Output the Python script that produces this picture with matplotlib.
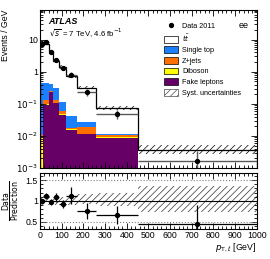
import numpy as np
import matplotlib
matplotlib.use("Agg")
import matplotlib.pyplot as plt
from matplotlib.patches import Patch
from matplotlib.lines import Line2D
from matplotlib.ticker import FixedLocator, MultipleLocator, FuncFormatter, LogLocator, NullFormatter

plt.rcParams['font.family'] = ['Liberation Sans', 'DejaVu Sans']
plt.rcParams['hatch.linewidth'] = 0.5

# bins [GeV]
edges = np.array([0, 15, 40, 60, 90, 120, 170, 260, 450, 1000])

# data, events / GeV
data = np.array([7.2, 8.2, 4.16, 2.4, 1.31, 0.82, 0.24, 0.049, 0.0017])
data_err = np.array([0.36, 0.57, 0.30, 0.24, 0.14, 0.15, 0.06, 0.016, 0.00168])

# predictions (stack order bottom -> top)
fake = np.array([0.0, 0.093, 0.235, 0.106, 0.044, 0.015, 0.0112, 0.0087, 0.0])
diboson = np.array([0.009, 0.003, 0.002, 0.004, 0.006, 0.001, 0.0006, 0.0005, 0.0])
zjets = np.array([0.002, 0.038, 0.015, 0.024, 0.010, 0.002, 0.007, 0.0018, 0.0])
singletop = np.array([0.44, 0.30, 0.16, 0.17, 0.055, 0.023, 0.008, 0.0007, 0.0])
ttbar = np.array([6.75, 6.87, 3.89, 1.90, 1.31, 0.69, 0.29, 0.063, 0.0037])

# relative syst. uncertainty
syst_up = np.array([0.10, 0.10, 0.10, 0.10, 0.10, 0.16, 0.16, 0.18, 0.37])
syst_dn = np.array([0.10, 0.10, 0.10, 0.10, 0.10, 0.10, 0.08, 0.12, 0.26])

layers = [(fake, '#660066'), (diboson, '#ffff00'), (zjets, '#ff7000'),
          (singletop, '#1a80ff'), (ttbar, 'white')]

centers = 0.5*(edges[1:] + edges[:-1])
halfw = 0.5*np.diff(edges)
total = fake + diboson + zjets + singletop + ttbar

fig = plt.figure(figsize=(2.7, 2.59), dpi=100)
ax = fig.add_axes([0.148, 0.351, 0.803, 0.610])
rax = fig.add_axes([0.148, 0.116, 0.803, 0.216])

# stack
base = np.full(len(total), 1e-6)
for vals, col in layers:
    ax.stairs(base + vals, edges, baseline=base, fill=True, color=col, lw=0)
    base = base + vals

ax.stairs(total*(1+syst_up), edges, baseline=total*(1-syst_dn), fill=True,
          facecolor='none', edgecolor='k', hatch='/////', lw=0)
ax.stairs(total, edges, color='k', lw=0.9)

lo = np.minimum(data_err, data*0.999)
ax.errorbar(centers, data, xerr=halfw, yerr=[lo, data_err], fmt='o', color='k',
            ms=2.8, ecolor='0.35', elinewidth=1.0, capsize=0)

ax.set_yscale('log')
ax.set_xlim(0, 1000)
ax.set_ylim(1e-3, 83)

def logfmt(v, pos):
    e = int(round(np.log10(v)))
    if e == 0:
        return '1'
    if e == 1:
        return '10'
    return r'$10^{%d}$' % e

ax.yaxis.set_major_locator(LogLocator(base=10, numticks=10))
ax.yaxis.set_major_formatter(FuncFormatter(logfmt))
ax.yaxis.set_minor_locator(LogLocator(base=10, subs=np.arange(2, 10), numticks=20))
ax.yaxis.set_minor_formatter(NullFormatter())
ax.xaxis.set_major_locator(MultipleLocator(100))
ax.xaxis.set_minor_locator(MultipleLocator(20))
ax.set_xticklabels([])

# ratio
ratio = data/total
ratio_err = data_err/total
rax.stairs(1+syst_up, edges, baseline=1-syst_dn, fill=True, facecolor='none',
           edgecolor='0.2', hatch='/////', lw=0)
rax.axhline(1.0, color='k', lw=0.8)
rax.axhline(1.5, color='0.5', lw=0.8, ls=':')
rax.axhline(0.5, color='0.5', lw=0.8, ls=':')
rlo = np.minimum(ratio_err, ratio - 0.01)
rax.errorbar(centers, ratio, xerr=halfw, yerr=[rlo, ratio_err], fmt='o', color='k',
             ms=2.8, ecolor='k', elinewidth=0.9, capsize=0)
rax.set_xlim(0, 1000)
rax.set_ylim(0.33, 1.67)
rax.xaxis.set_major_locator(MultipleLocator(100))
rax.xaxis.set_minor_locator(MultipleLocator(20))
rax.yaxis.set_major_locator(FixedLocator([0.5, 1.0, 1.5]))
rax.yaxis.set_major_formatter(FuncFormatter(lambda v, p: '1' if v == 1 else '%g' % v))
rax.yaxis.set_minor_locator(MultipleLocator(0.1))

for a in (ax, rax):
    a.tick_params(which='both', direction='in', top=True, right=True, labelsize=6.3, pad=1.5, width=0.6)
    a.tick_params(which='major', length=4.5)
    a.tick_params(which='minor', length=2.2)
    for s in a.spines.values():
        s.set_linewidth(0.8)

fig.text(0.022, 0.962, 'Events / GeV', rotation=90, ha='center', va='top', fontsize=6.3)
fig.text(0.042, 0.225, r'$\frac{\mathrm{Data}}{\mathrm{Prediction}}$', rotation=90,
         ha='center', va='center', fontsize=8)
fig.text(0.951, 0.045, r'$p_{\mathrm{T},\ell}$ [GeV]', ha='right', va='center', fontsize=6.3)

ax.text(0.04, 0.925, 'ATLAS', transform=ax.transAxes, fontsize=6.5, fontweight='bold',
        style='italic', va='center')
ax.text(0.04, 0.85, r'$\sqrt{s}$ = 7 TeV, 4.6 fb$^{-1}$', transform=ax.transAxes,
        fontsize=5.6, va='center')
ax.text(0.915, 0.905, 'ee', transform=ax.transAxes, fontsize=6.5, va='center')

handles = [Line2D([], [], marker='o', color='k', ls='none', ms=2.8),
           Patch(facecolor='white', edgecolor='k', lw=0.5),
           Patch(facecolor='#1a80ff', edgecolor='k', lw=0.5),
           Patch(facecolor='#ff7000', edgecolor='k', lw=0.5),
           Patch(facecolor='#ffff00', edgecolor='k', lw=0.5),
           Patch(facecolor='#660066', edgecolor='k', lw=0.5),
           Patch(facecolor='white', edgecolor='0.3', hatch='/////', lw=0.5)]
labels = ['Data 2011', r'$t\bar{t}$', 'Single top', 'Z+jets', 'Diboson',
          'Fake leptons', 'Syst. uncertainties']
ax.legend(handles, labels, loc='upper left', bbox_to_anchor=(0.572, 0.925),
          frameon=False, fontsize=5.2, handlelength=2.0, handleheight=1.1,
          labelspacing=0.36, handletextpad=0.5, borderpad=0, borderaxespad=0)

fig.savefig('out.png', dpi=100)
